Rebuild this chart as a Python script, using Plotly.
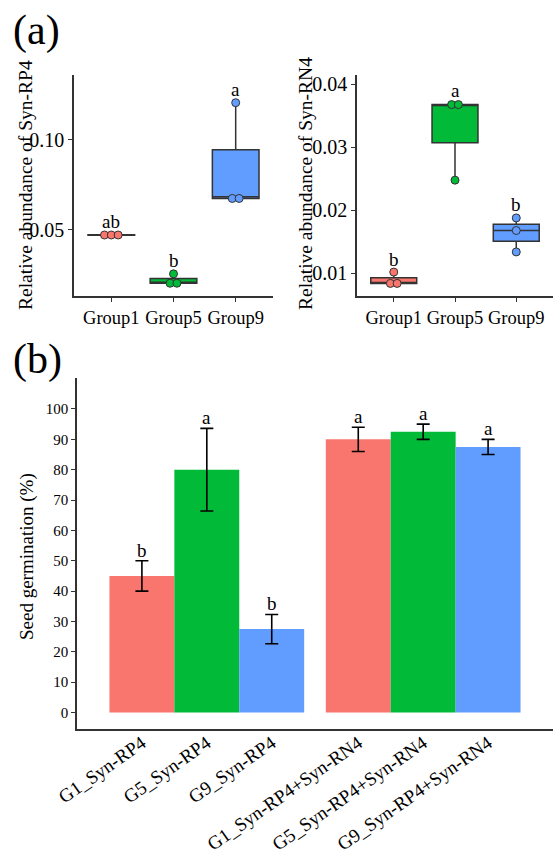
import plotly.graph_objects as go

# ---------------- data ----------------
groups = ["Group1", "Group5", "Group9"]
group_colors = ["#F8766D", "#00BA38", "#619CFF"]

rp4_group1 = [0.0470, 0.0472, 0.0474]
rp4_group5 = [0.0204, 0.0204, 0.0256]
rp4_group9 = [0.0665, 0.0685, 0.1207]
rp4_letters = ["ab", "b", "a"]

rn4_group1 = [0.0084, 0.0084, 0.0102]
rn4_group5 = [0.0248, 0.0367, 0.0369]
rn4_group9 = [0.0134, 0.0168, 0.0188]
rn4_letters = ["b", "a", "b"]

sources = ["G1", "G5", "G9"]
inoculants = ["Syn-RP4", "Syn-RP4+Syn-RN4"]
treatments = ["G1_Syn-RP4", "G5_Syn-RP4", "G9_Syn-RP4",
              "G1_Syn-RP4+Syn-RN4", "G5_Syn-RP4+Syn-RN4", "G9_Syn-RP4+Syn-RN4"]
germ_mean = [45.0, 80.0, 27.5, 90.0, 92.5, 87.5]
germ_sd = [5.0, 13.6, 4.8, 4.0, 2.5, 2.5]
germ_letters = ["b", "a", "b", "a", "a", "a"]

# ---------------- style ----------------
W, H = 554, 854
FONT = "Liberation Serif, Times New Roman, serif"
AX = "#333333"


def px_x(p):
    return p / W


def px_y(p):
    return 1 - p / H


def dotplot(vals, center, binwidth, spacing):
    """centered dot stacking of values that share a bin (like geom_dotplot)."""
    s = sorted(vals)
    clusters = []
    for v in s:
        if clusters and v - clusters[-1][0] < binwidth:
            clusters[-1].append(v)
        else:
            clusters.append([v])
    xs, ys = [], []
    for c in clusters:
        n = len(c)
        m = sum(c) / n
        for k in range(n):
            xs.append(center + (k - (n - 1) / 2) * spacing)
            ys.append(m)
    return xs, ys


fig = go.Figure()

panels = [
    ("x", "y", [rp4_group1, rp4_group5, rp4_group9], rp4_letters, [0.0133, 0.1361]),
    ("x2", "y2", [rn4_group1, rn4_group5, rn4_group9], rn4_letters, [0.0064, 0.0415]),
]

annotations = []
for xa, ya, data, letters, yr in panels:
    allv = [v for d in data for v in d]
    binw = (max(allv) - min(allv)) / 30
    for i, (vals, col) in enumerate(zip(data, group_colors)):
        pos = i + 1
        fig.add_trace(go.Box(
            x=[pos] * len(vals), y=vals, width=0.75,
            fillcolor=col, line=dict(color=AX, width=1.5),
            boxpoints=False, quartilemethod="inclusive",
            whiskerwidth=0, xaxis=xa, yaxis=ya, showlegend=False))
        dx, dy = dotplot(vals, pos, binw, 0.11)
        fig.add_trace(go.Scatter(
            x=dx, y=dy, mode="markers", xaxis=xa, yaxis=ya, showlegend=False,
            marker=dict(size=8, color=col, line=dict(color=AX, width=1))))
        annotations.append(dict(
            x=pos, y=max(vals) + 0.068 * (yr[1] - yr[0]), xref=xa, yref=ya,
            text=letters[i], showarrow=False, xanchor="center",
            yanchor="middle", yshift=-2,
            font=dict(family=FONT, size=19, color="black")))

# panel b bars
bar_x = []
for j, _ in enumerate(inoculants):
    for i, _ in enumerate(sources):
        bar_x.append(j + 1 + (i - 1) * 0.3)
bar_colors = [group_colors[k % 3] for k in range(len(treatments))]

fig.add_trace(go.Bar(
    x=bar_x, y=germ_mean, width=0.3, xaxis="x3", yaxis="y3",
    marker=dict(color=bar_colors, line=dict(width=0)), showlegend=False,
    error_y=dict(type="data", array=germ_sd, visible=True,
                 color="black", thickness=1.6, width=6.5)))
for k in range(len(treatments)):
    annotations.append(dict(
        x=bar_x[k], y=germ_mean[k] + germ_sd[k] + 4.2, xref="x3", yref="y3",
        text=germ_letters[k], showarrow=False, xanchor="center",
        yanchor="middle", yshift=-2,
        font=dict(family=FONT, size=19, color="black")))


# axis titles and panel labels
def paper_text(x, y, text, size, angle=0):
    return dict(x=px_x(x), y=px_y(y), xref="paper", yref="paper",
                xanchor="center", yanchor="middle", textangle=angle,
                text=text, showarrow=False,
                font=dict(family=FONT, size=size, color="black"))


annotations += [
    paper_text(25, 185, "Relative abundance of Syn-RP4", 19.5, -90),
    paper_text(305, 184, "Relative abundance of Syn-RN4", 19.5, -90),
    paper_text(27, 557, "Seed germination (%)", 19, -90),
    paper_text(36, 30, "(a)", 42),
    paper_text(37, 359, "(b)", 42),
]

axis_common = dict(showline=True, linecolor=AX, linewidth=1.5, showgrid=False,
                   zeroline=False, ticks="outside", ticklen=4, tickcolor=AX,
                   tickwidth=1, automargin=False,
                   tickfont=dict(family=FONT, size=18.5, color="black"))

fig.update_layout(
    width=W, height=H, margin=dict(l=0, r=0, t=0, b=0, autoexpand=False),
    paper_bgcolor="white", plot_bgcolor="white", showlegend=False,
    annotations=annotations,
    xaxis=dict(axis_common, domain=[px_x(74), px_x(273)], range=[0.4, 3.6],
               tickvals=[1, 2, 3], ticktext=groups, tickangle=0, anchor="y"),
    yaxis=dict(axis_common, domain=[px_y(296), px_y(75)], range=[0.0133, 0.1361],
               tickvals=[0.05, 0.10], ticktext=["0.05", "0.10"], anchor="x",
               tickfont=dict(family=FONT, size=20, color="black")),
    xaxis2=dict(axis_common, domain=[px_x(357), px_x(553)], range=[0.4, 3.6],
                tickvals=[1, 2, 3], ticktext=groups, tickangle=0, anchor="y2"),
    yaxis2=dict(axis_common, domain=[px_y(296), px_y(75)], range=[0.0064, 0.0415],
                tickvals=[0.01, 0.02, 0.03, 0.04],
                ticktext=["0.01", "0.02", "0.03", "0.04"], anchor="x2",
                tickfont=dict(family=FONT, size=20, color="black")),
    xaxis3=dict(axis_common, domain=[px_x(77), px_x(553)], range=[0.4, 2.6],
                tickvals=bar_x, ticktext=treatments, tickangle=-35, ticks="",
                ticklabelstandoff=-6,
                tickfont=dict(family=FONT, size=19, color="black"),
                anchor="y3"),
    yaxis3=dict(axis_common, domain=[px_y(729), px_y(378)], range=[-5.4, 110.2],
                tickvals=list(range(0, 101, 10)),
                tickfont=dict(family=FONT, size=15, color="black"), anchor="x3"),
)

fig.write_html(
    "out.html",
    config={"displayModeBar": False},
    post_script="document.body.style.margin='0';"
                "document.body.style.overflow='hidden';")
